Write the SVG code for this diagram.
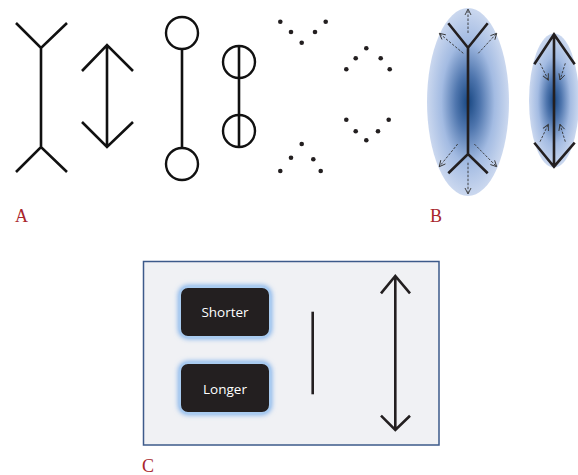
<svg xmlns="http://www.w3.org/2000/svg" width="578" height="475" viewBox="0 0 578 475">
<style>
.ln{fill:none;stroke:#111;stroke-width:2.6;stroke-linecap:butt;stroke-linejoin:miter}
.lnb{fill:none;stroke:#231f20;stroke-width:2.6}
.cir{fill:#fff;stroke:#111;stroke-width:2.4}
.dot{fill:#231f20}
.dash{fill:none;stroke:#333;stroke-width:0.9;stroke-dasharray:2.5 1.5}
.lbl{font-family:"Liberation Serif",serif;font-size:18px;fill:#a8262c}
.btn{fill:#231f20;stroke:#a9cbf0;stroke-width:2}
.btxt{font-family:"Open Sans","Liberation Sans",sans-serif;font-size:13.5px;fill:#fff;text-anchor:middle}
</style>
<defs>
<radialGradient id="g" cx="0.5" cy="0.5" r="0.5">
<stop offset="0" stop-color="#184782"/>
<stop offset="0.3" stop-color="#4f76ae"/>
<stop offset="0.65" stop-color="#a3bbe2"/>
<stop offset="1" stop-color="#cbd8ef"/>
</radialGradient>
<marker id="ah" markerWidth="8" markerHeight="8" refX="7" refY="4" orient="auto" markerUnits="userSpaceOnUse">
<path d="M1,1 L7,4 L1,7" fill="none" stroke="#333" stroke-width="0.9"/>
</marker>
<filter id="glow" x="-30%" y="-40%" width="160%" height="180%">
<feGaussianBlur stdDeviation="2.8"/>
</filter>
</defs>

<g id="figA1">
<path class="ln" d="M41,48 V147 M16,23 L41,48 L67,23 M16,172 L41,147 L67,172"/>
</g>
<g id="figA2">
<path class="ln" d="M107,45 V147 M82,71 L107,45 L133,71 M82,122 L107,147 L133,122"/>
</g>
<g id="figA3">
<path class="ln" d="M182,49 V148"/>
<circle class="cir" cx="182" cy="33" r="16"/>
<circle class="cir" cx="182" cy="164" r="16"/>
</g>
<g id="figA4">
<circle class="cir" cx="239" cy="62" r="16"/>
<circle class="cir" cx="239" cy="131" r="16"/>
<path class="ln" d="M239,46 V147"/>
</g>
<g id="dots">
<circle class="dot" cx="280.3" cy="21.7" r="2.3"/>
<circle class="dot" cx="291" cy="32" r="2.3"/>
<circle class="dot" cx="301.7" cy="42.7" r="2.3"/>
<circle class="dot" cx="315" cy="32" r="2.3"/>
<circle class="dot" cx="325.7" cy="21.7" r="2.3"/>
<circle class="dot" cx="346.3" cy="69.3" r="2.3"/>
<circle class="dot" cx="355.7" cy="58.3" r="2.3"/>
<circle class="dot" cx="366.3" cy="48.3" r="2.3"/>
<circle class="dot" cx="380.7" cy="58.3" r="2.3"/>
<circle class="dot" cx="389.7" cy="69.3" r="2.3"/>
<circle class="dot" cx="346.3" cy="119.7" r="2.3"/>
<circle class="dot" cx="355.7" cy="131.3" r="2.3"/>
<circle class="dot" cx="366.3" cy="140.3" r="2.3"/>
<circle class="dot" cx="378" cy="131.3" r="2.3"/>
<circle class="dot" cx="388.7" cy="119.7" r="2.3"/>
<circle class="dot" cx="301.7" cy="144" r="2.3"/>
<circle class="dot" cx="291" cy="157.7" r="2.3"/>
<circle class="dot" cx="313.3" cy="159.3" r="2.3"/>
<circle class="dot" cx="280.3" cy="171" r="2.3"/>
<circle class="dot" cx="320.7" cy="171" r="2.3"/>
</g>
<text class="lbl" x="15" y="222">A</text>

<g id="figB1">
<ellipse cx="468" cy="102" rx="41" ry="94" fill="url(#g)"/>
<path class="lnb" d="M468,47.7 V154 M448.3,23.3 L468,47.7 L487.7,23.3 M448.3,173.3 L468,154 L487.7,173.3"/>
<path class="dash" marker-end="url(#ah)" d="M468,33 V9"/>
<path class="dash" marker-end="url(#ah)" d="M463.3,53.3 L439.3,33.3"/>
<path class="dash" marker-end="url(#ah)" d="M478.3,53.3 L496.7,33.3"/>
<path class="dash" marker-end="url(#ah)" d="M457.7,144 L439.3,166.7"/>
<path class="dash" marker-end="url(#ah)" d="M474.3,144 L496.7,166.7"/>
<path class="dash" marker-end="url(#ah)" d="M468,162.7 V194"/>
</g>
<g id="figB2">
<ellipse cx="554" cy="100.5" rx="25" ry="67" fill="url(#g)"/>
<path class="lnb" d="M554,34.3 V166.7 M534.3,64.3 L554,34.3 L574.7,64.3 M534.3,142.7 L554,166.7 L574.7,142.7"/>
<path class="dash" marker-end="url(#ah)" d="M540,63.3 L548.3,80"/>
<path class="dash" marker-end="url(#ah)" d="M565.3,63.3 L560,80"/>
<path class="dash" marker-end="url(#ah)" d="M540,141.7 L548.3,124.3"/>
<path class="dash" marker-end="url(#ah)" d="M565.3,141.7 L560,124.3"/>
</g>
<text class="lbl" x="430" y="222">B</text>

<g id="panelC">
<rect x="143.5" y="261.5" width="295.5" height="183.5" fill="#f0f1f4" stroke="#3d5a8a" stroke-width="1.5"/>
</g>
<g id="btnShorter">
<rect x="178" y="285" width="94" height="54" rx="10" fill="#7fb0ea" filter="url(#glow)"/>
<rect class="btn" x="180" y="287" width="90" height="50" rx="8"/>
<text class="btxt" x="225" y="317">Shorter</text>
</g>
<g id="btnLonger">
<rect x="178" y="361" width="94" height="54" rx="10" fill="#7fb0ea" filter="url(#glow)"/>
<rect class="btn" x="180" y="363" width="90" height="50" rx="8"/>
<text class="btxt" x="225" y="394">Longer</text>
</g>
<g id="lineC">
<path class="lnb" d="M312.7,311.7 V394.3"/>
</g>
<g id="arrowC">
<path class="lnb" d="M395.3,276 V430 M381,293.3 L395.3,276 L410,293.3 M381,415.7 L395.3,430 L410,415.7"/>
</g>
<text class="lbl" x="142" y="472">C</text>
</svg>
